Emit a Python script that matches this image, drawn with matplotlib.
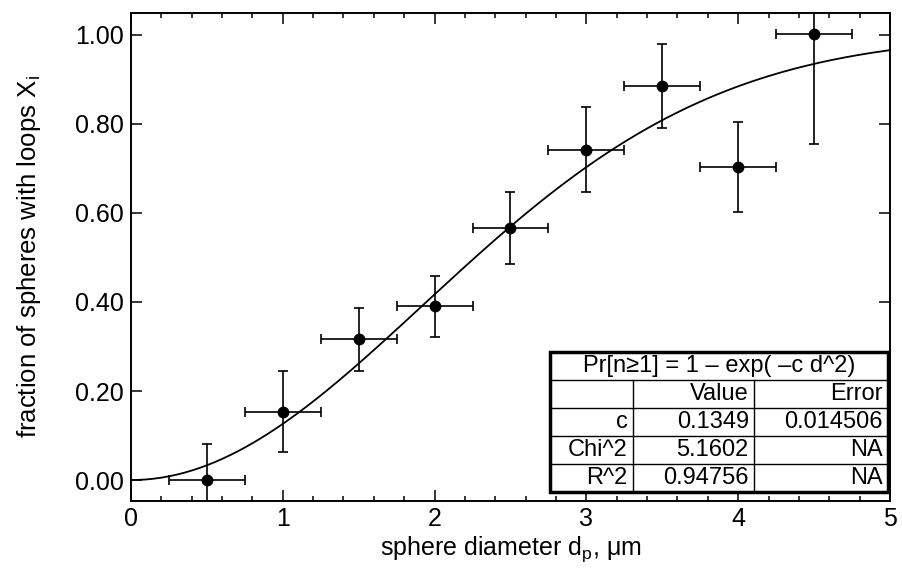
import numpy as np
import matplotlib.pyplot as plt
from matplotlib.patches import Rectangle

plt.rcParams['font.family'] = ['Liberation Sans', 'DejaVu Sans']
plt.rcParams['mathtext.fontset'] = 'custom'
plt.rcParams['mathtext.rm'] = 'Liberation Sans'

d = [0.5, 1.0, 1.5, 2.0, 2.5, 3.0, 3.5, 4.0, 4.5]
frac = [0.000, 0.153, 0.316, 0.390, 0.566, 0.742, 0.885, 0.703, 1.003]
yerr = [0.080, 0.091, 0.071, 0.068, 0.080, 0.095, 0.095, 0.101, 0.248]
xerr = [0.25] * 9

# fit parameters
c_val = 0.1349
table_rows = [['', 'Value', 'Error'],
              ['c', '0.1349', '0.014506'],
              ['Chi^2', '5.1602', 'NA'],
              ['R^2', '0.94756', 'NA']]
table_title = 'Pr[n\u22651] = 1 \u2013 exp( \u2013c d^2)'

fig = plt.figure(figsize=(9.02, 5.68), dpi=100)
ax = fig.add_axes([0.1452, 0.118, 0.8415, 0.859])

dd = np.linspace(0, 5, 300)
ax.plot(dd, 1 - np.exp(-c_val * dd**2), color='k', lw=1.3)
ax.errorbar(d, frac, yerr=yerr, xerr=xerr, fmt='o', color='k', ms=7.5,
            capsize=3.6, elinewidth=1.2, capthick=1.2)

ax.set_xlim(0, 5)
ax.set_ylim(-0.047, 1.049)
ax.set_xticks([0, 1, 2, 3, 4, 5])
ax.set_xticks(np.arange(0, 5.01, 0.2), minor=True)
ax.set_yticks([0, 0.2, 0.4, 0.6, 0.8, 1.0])
ax.set_yticklabels(['0.00', '0.20', '0.40', '0.60', '0.80', '1.00'])
ax.tick_params(which='both', direction='in', top=True, right=True, labelsize=18)
ax.tick_params(which='major', length=8, width=1.1)
ax.tick_params(which='minor', length=3.6, width=1.1)
ax.tick_params(axis='x', pad=4)
ax.tick_params(axis='y', pad=5)
for s in ax.spines.values():
    s.set_linewidth(1.4)

ax.set_xlabel('sphere diameter $\\mathregular{d_p}$, \u03bcm', fontsize=18, labelpad=3)
ax.set_ylabel('fraction of spheres with loops $\\mathregular{X_i}$', fontsize=18.5, labelpad=23)

# fit results box
cols = [0.552, 0.661, 0.821, 0.997]
y0, y1 = 0.018, 0.305
rh = (y1 - y0) / 5
ax.add_patch(Rectangle((cols[0], y0), cols[3] - cols[0], y1 - y0, transform=ax.transAxes,
                       facecolor='white', edgecolor='k', lw=2.5, zorder=5))
for i in range(1, 5):
    ax.plot([cols[0], cols[3]], [y1 - i * rh] * 2, transform=ax.transAxes,
            color='k', lw=1, zorder=6)
for cx in cols[1:3]:
    ax.plot([cx, cx], [y0, y1 - rh], transform=ax.transAxes, color='k', lw=1, zorder=6)
ax.text((cols[0] + cols[3]) / 2, y1 - rh / 2, table_title, transform=ax.transAxes,
        ha='center', va='center', fontsize=17, zorder=7)
for r, row in enumerate(table_rows):
    yc = y1 - (r + 1.5) * rh
    for j, txt in enumerate(row):
        ax.text(cols[j + 1] - 0.007, yc, txt, transform=ax.transAxes,
                ha='right', va='center', fontsize=17, zorder=7)

fig.savefig('out.png', dpi=100)
